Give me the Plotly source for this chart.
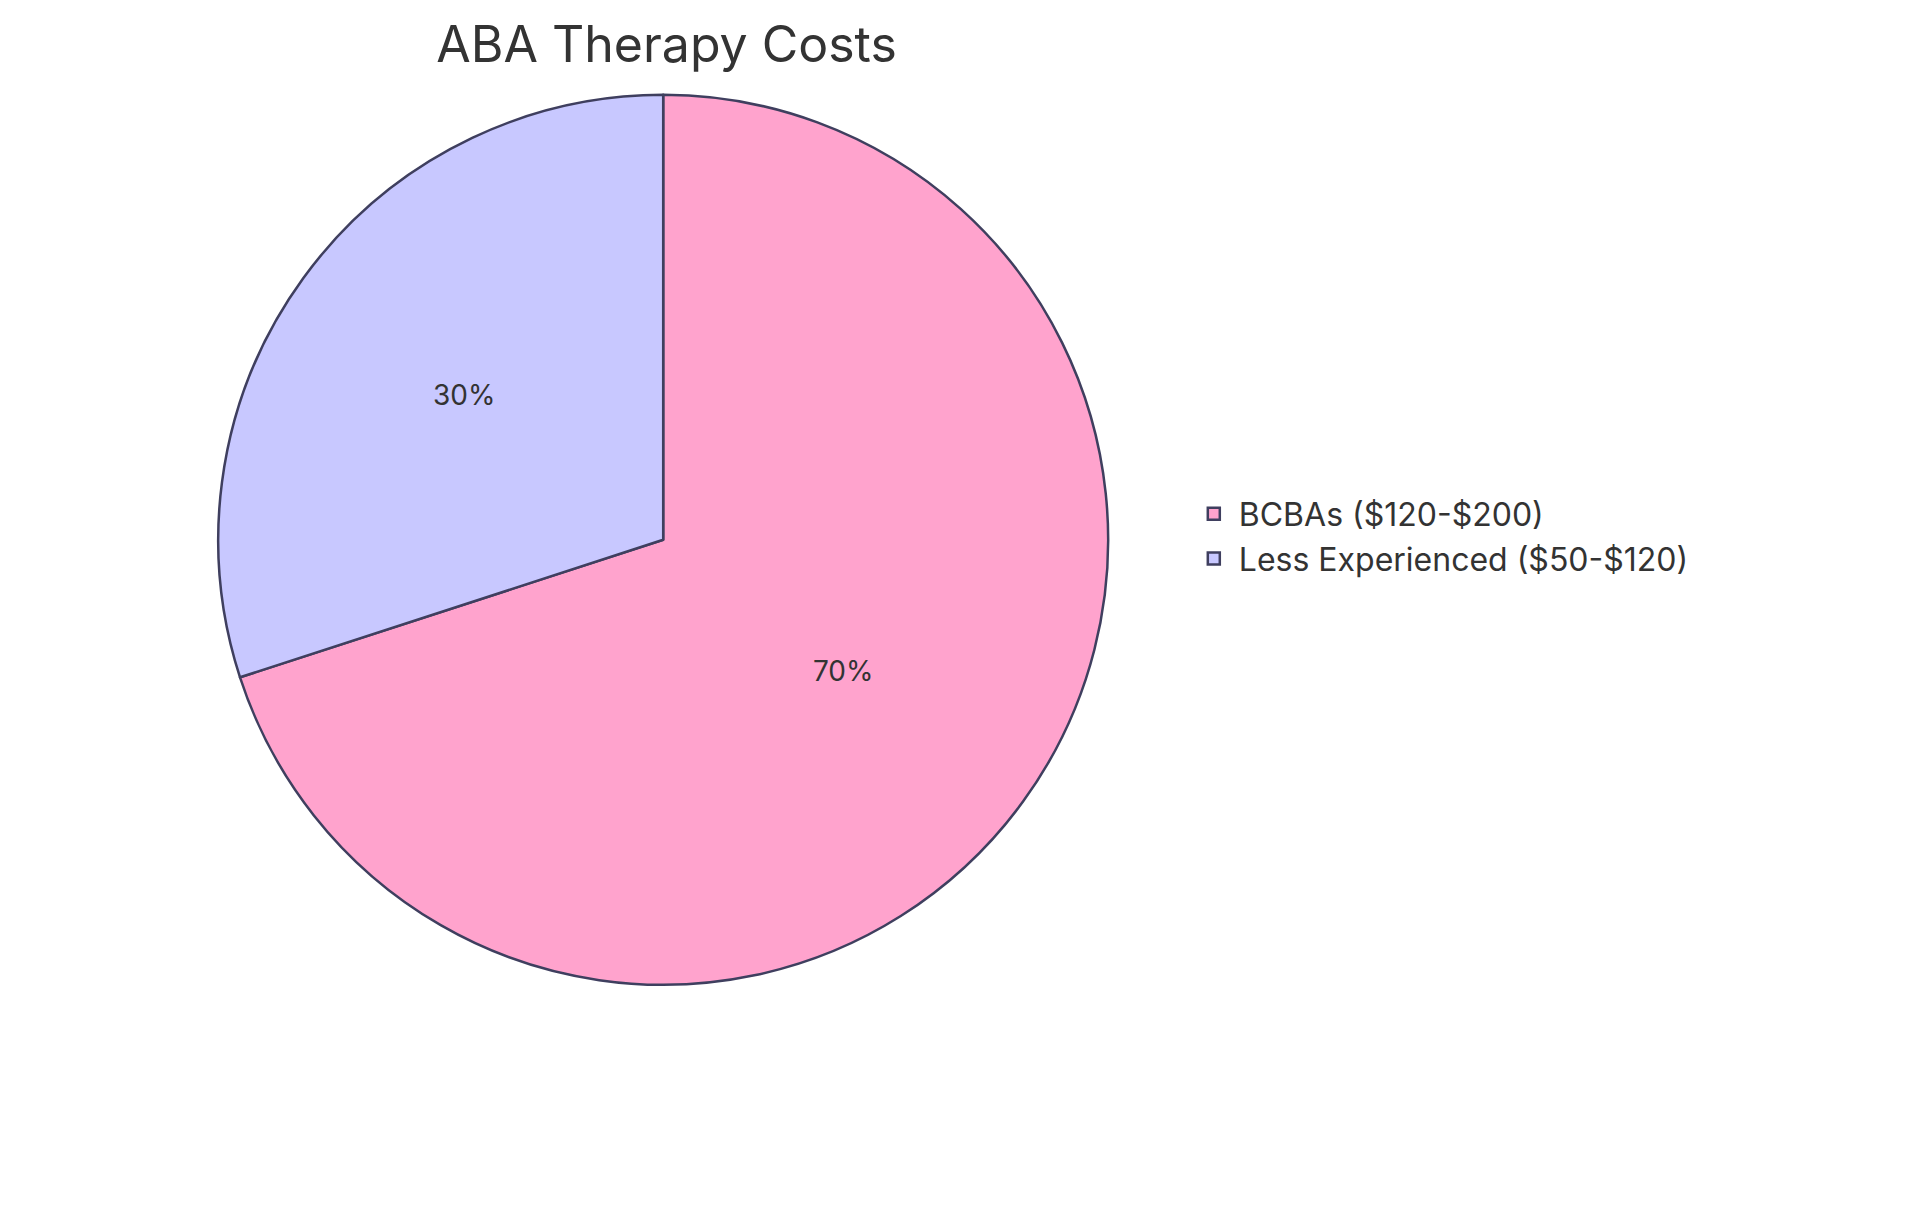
import plotly.graph_objects as go

labels = ["BCBAs ($120-$200)", "Less Experienced ($50-$120)"]
values = [70, 30]
colors = ["#FFA3CD", "#C8C8FF"]

fig = go.Figure()

fig.add_trace(
    go.Pie(
        labels=labels,
        values=values,
        sort=False,
        direction="clockwise",
        rotation=0,
        marker=dict(colors=colors, line=dict(color="#3F3F5F", width=2.5)),
        textinfo="percent",
        textposition="inside",
        insidetextorientation="horizontal",
        textfont=dict(size=28, color="#333333"),
        domain=dict(x=[0.1095, 0.573], y=[0.196, 0.9286]),
    )
)

fig.update_layout(
    width=1920,
    height=1215,
    margin=dict(l=0, r=0, t=0, b=0),
    paper_bgcolor="white",
    font=dict(family="Inter, Noto Sans, sans-serif", color="#333333"),
    title=dict(text="ABA Therapy Costs", x=0.343, xanchor="center", y=0.97, yanchor="middle",
               font=dict(size=50, color="#333333")),
    legend=dict(x=0.615, y=0.565, xanchor="left", yanchor="middle", font=dict(size=32),
                itemwidth=40, tracegroupgap=10),
)

fig.write_html("out.html")
